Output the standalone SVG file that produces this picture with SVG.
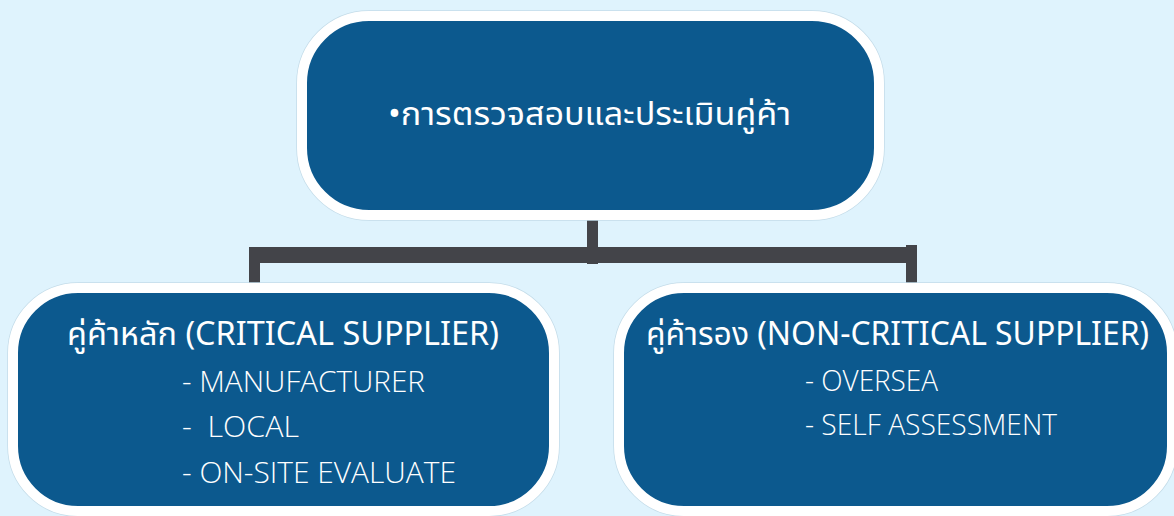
<svg xmlns="http://www.w3.org/2000/svg" width="1174" height="516" viewBox="0 0 1174 516">
<defs>
<style>
.box{fill:#0c598e;stroke:#ffffff;stroke-width:10}
.halo{fill:none;stroke:#c4dce9;stroke-width:1.5}
.conn{stroke:#434449;fill:none;stroke-linecap:butt}
.t{fill:#ffffff;font-family:"Noto Sans Thai","Noto Sans","Open Sans","DejaVu Sans",sans-serif}
.title{font-size:32px;font-weight:400}
.item{font-size:29px;font-weight:300;font-family:"Open Sans","Noto Sans",sans-serif}
</style>
</defs>
<rect width="1174" height="516" fill="#dff3fd"/>
<g id="connectors">
<line class="conn" x1="592.5" y1="220" x2="592.5" y2="264" stroke-width="11"/>
<line class="conn" x1="249" y1="255" x2="917" y2="255" stroke-width="16"/>
<line class="conn" x1="254.5" y1="252" x2="254.5" y2="283" stroke-width="11"/>
<line class="conn" x1="911.5" y1="245" x2="911.5" y2="283" stroke-width="11"/>
</g>
<g id="node-top">
<rect class="halo" x="297" y="11" width="587" height="209" rx="72"/>
<rect class="box" x="302" y="16" width="577" height="199" rx="67"/>
<text class="t title" x="388" y="125" font-size="35" textLength="403" lengthAdjust="spacingAndGlyphs">•การตรวจสอบและประเมินคู่ค้า</text>
</g>
<g id="node-critical">
<rect class="halo" x="8" y="283" width="551" height="233" rx="70"/>
<rect class="box" x="13" y="288" width="541" height="223" rx="65"/>
<text class="t title" x="67" y="345" textLength="432" lengthAdjust="spacingAndGlyphs">คู่ค้าหลัก (CRITICAL SUPPLIER)</text>
<text class="t item" x="182" y="392" textLength="243" lengthAdjust="spacingAndGlyphs">- MANUFACTURER</text>
<text class="t item" x="182" y="437" xml:space="preserve" textLength="117" lengthAdjust="spacingAndGlyphs">-  LOCAL</text>
<text class="t item" x="182" y="483" textLength="274" lengthAdjust="spacingAndGlyphs">- ON-SITE EVALUATE</text>
</g>
<g id="node-noncritical">
<rect class="halo" x="614" y="283" width="563" height="233" rx="70"/>
<rect class="box" x="619" y="288" width="553" height="223" rx="65"/>
<text class="t title" x="646" y="345" textLength="503" lengthAdjust="spacingAndGlyphs">คู่ค้ารอง (NON-CRITICAL SUPPLIER)</text>
<text class="t item" x="805" y="391" textLength="133" lengthAdjust="spacingAndGlyphs">- OVERSEA</text>
<text class="t item" x="805" y="435" textLength="252" lengthAdjust="spacingAndGlyphs">- SELF ASSESSMENT</text>
</g>
</svg>
